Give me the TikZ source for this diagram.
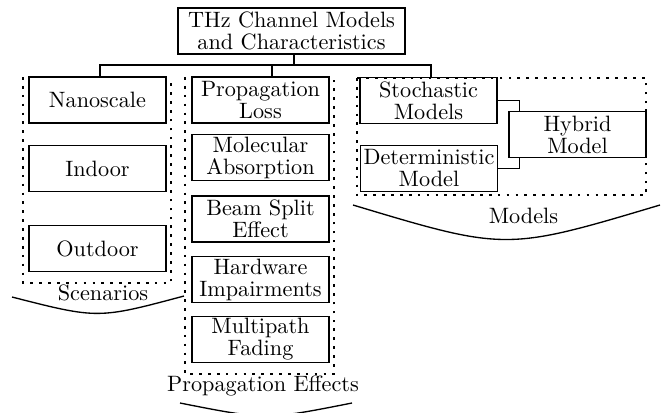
\documentclass[tikz,border=0pt]{standalone}
\usetikzlibrary{calc}
\begin{document}
\begin{tikzpicture}[x=0.45pt,y=-0.45pt,
  every node/.style={font=\fontsize{10}{9.9}\selectfont},
  box/.style={draw, line width=0.55pt, minimum width=61.65pt, minimum height=20.7pt, inner sep=0pt, align=center},
  grp/.style={line width=0.6pt, dash pattern=on 1.2pt off 2.8pt},
  lbl/.style={anchor=base, inner sep=0pt},
  link/.style={line width=0.55pt},
  arc/.style={line width=0.6pt}]
\useasboundingbox (0,0) rectangle (665,412);
% root
\node[box, minimum width=102.2pt] (root) at (291.5,31) {THz Channel Models\\and Characteristics};
% scenarios
\node[box] (nano) at (97.5,100) {Nanoscale};
\node[box] (indoor) at (97.5,168.5) {Indoor};
\node[box] (outdoor) at (97.5,248.5) {Outdoor};
% propagation effects
\node[box] (ploss) at (260.5,100) {Propagation\\Loss};
\node[box] (molabs) at (260.5,157.5) {Molecular\\Absorption};
\node[box] (beam) at (260.5,219) {Beam Split\\Effect};
\node[box] (hw) at (260.5,279.5) {Hardware\\Impairments};
\node[box] (mp) at (260.5,339.5) {Multipath\\Fading};
% models
\node[box] (stoch) at (428.5,100.5) {Stochastic\\Models};
\node[box] (hyb) at (577.5,134.5) {Hybrid\\Model};
\node[box] (det) at (429,168.5) {Deterministic\\Model};
% group frames
\draw[grp] (23,77) -- (23,283) -- (171,283) -- (171,77);
\draw[grp] (185,77) -- (185,374) -- (334,374) -- (334,77);
\draw[grp] (357,78) rectangle (646,195);
% labels
\node[lbl] (lsc) at (103,300) {Scenarios};
\node[lbl] (lpe) at (263,391) {Propagation Effects};
\node[lbl] (lmo) at (523.5,223) {Models};
% arcs
\draw[arc] (12,297) .. controls (98,319) .. (184,296);
\draw[arc] (180,403) .. controls (266,420) .. (352,403);
\draw[arc] (353,205) .. controls (506,251) .. (660,205);
% tree
\coordinate (j) at (294,65);
\draw[link] (j |- root.south) -- (j);
\draw[link] (j) -| ($(nano.north)+(2.5,0)$);
\draw[link] (j) -| ($(ploss.north)+(11.5,0)$);
\draw[link] (j) -| ($(stoch.north)+(2.5,0)$);
% hybrid links
\draw[link] (stoch.east) -| ($(hyb.north west)+(11,0)$);
\draw[link] (det.east) -| ($(hyb.south west)+(11,0)$);
\end{tikzpicture}
\end{document}
